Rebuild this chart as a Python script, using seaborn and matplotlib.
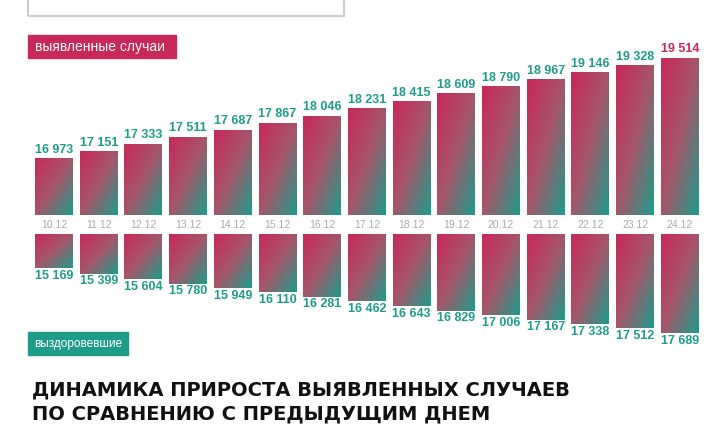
import numpy as np
import matplotlib.pyplot as plt
import seaborn as sns
from matplotlib.colors import LinearSegmentedColormap
from matplotlib.patches import Rectangle

dates = ["10.12", "11.12", "12.12", "13.12", "14.12", "15.12", "16.12", "17.12",
         "18.12", "19.12", "20.12", "21.12", "22.12", "23.12", "24.12"]
cases = [16973, 17151, 17333, 17511, 17687, 17867, 18046, 18231,
         18415, 18609, 18790, 18967, 19146, 19328, 19514]
recovered = [15169, 15399, 15604, 15780, 15949, 16110, 16281, 16462,
             16643, 16829, 17006, 17167, 17338, 17512, 17689]

PINK = "#C8285A"
TEAL = "#1E9C8A"
cmap = LinearSegmentedColormap.from_list("pt", [PINK, "#A5566A", TEAL])

sns.set_theme(style="white")
plt.rcParams['font.family'] = ['Liberation Sans', 'DejaVu Sans']

W, H = 728, 448
fig = plt.figure(figsize=(W / 100, H / 100), dpi=100)
xlim = (-54 / 44.7, (W - 54) / 44.7)

def fig_rect(x0, y0, x1, y1):
    return [x0 / W, 1 - y1 / H, (x1 - x0) / W, (y1 - y0) / H]

# diagonal gradient image, pink top-left -> teal bottom-right
gx, gy = np.meshgrid(np.linspace(0, 1, 64), np.linspace(0, 1, 64))
grad = (gx + gy) / 2

def gradient_bars(ax, bars):
    inverted = ax.yaxis_inverted()
    for b in bars:
        x0, y0 = b.get_x(), b.get_y()
        w, h = b.get_width(), b.get_height()
        ylo, yhi = sorted([y0, y0 + h])
        ext = (x0, x0 + w, yhi, ylo) if inverted else (x0, x0 + w, ylo, yhi)
        im = ax.imshow(grad, cmap=cmap, aspect="auto", extent=ext,
                       origin="upper", zorder=2)
        im.set_clip_path(b)
        b.set_facecolor("none")

# top axis (cases)
ax1 = fig.add_axes(fig_rect(0, 30, W, 215))
base1 = 15525
top1 = base1 + 185 / 0.0394
sns.barplot(x=list(range(15)), y=[c - base1 for c in cases], ax=ax1,
            width=0.85, color=PINK, native_scale=True)
gradient_bars(ax1, ax1.patches)
for i, v in enumerate(cases):
    ax1.text(i, v - base1 + 60, f"{v:,}".replace(",", " "), ha="center", va="bottom",
             fontsize=9, fontweight="bold", color=PINK if i == 14 else TEAL)
ax1.set_xlim(*xlim)
ax1.set_ylim(0, top1 - base1)
ax1.axis("off")

# bottom axis (recovered), hanging downward
ax2 = fig.add_axes(fig_rect(0, 234, W, 345))
base2 = 13851
bot2 = base2 + 111 / 0.0258
ax2.set_ylim(bot2 - base2, 0)
sns.barplot(x=list(range(15)), y=[r - base2 for r in recovered], ax=ax2,
            width=0.85, color=PINK, native_scale=True)
gradient_bars(ax2, ax2.patches)
for i, v in enumerate(recovered):
    ax2.text(i, v - base2 + 60, f"{v:,}".replace(",", " "), ha="center", va="top",
             fontsize=9, fontweight="bold", color=TEAL)
ax2.set_xlim(*xlim)
ax2.set_ylim(bot2 - base2, 0)
ax2.axis("off")

# date labels
for i, d in enumerate(dates):
    fig.text((54 + 44.7 * i) / W, 1 - 225 / H, d, ha="center", va="center",
             fontsize=7.5, color="#AAAAAA")

# decorations
fig.patches.append(Rectangle((28 / W, 1 - 16 / H), (344 - 28) / W, 30 / H,
                             transform=fig.transFigure, fill=False,
                             edgecolor="#CCCCCC", linewidth=1.5))
fig.patches.append(Rectangle((28 / W, 1 - 58 / H), 148 / W, 23 / H,
                             transform=fig.transFigure, color=PINK))
fig.text(35 / W, 1 - 46.5 / H, "выявленные случаи", color="white",
         fontsize=10, va="center")
fig.patches.append(Rectangle((28 / W, 1 - 355 / H), 100 / W, 23 / H,
                             transform=fig.transFigure, color=TEAL))
fig.text(78 / W, 1 - 343.5 / H, "выздоровевшие", color="white",
         fontsize=8.5, va="center", ha="center")

fig.text(32 / W, 1 - 402 / H, "ДИНАМИКА ПРИРОСТА ВЫЯВЛЕННЫХ СЛУЧАЕВ\nПО СРАВНЕНИЮ С ПРЕДЫДУЩИМ ДНЕМ",
         family=['DejaVu Sans Condensed', 'DejaVu Sans'], fontweight="bold",
         fontsize=14, color="#111111", va="center", linespacing=1.3)

fig.savefig("out.png", dpi=100)
